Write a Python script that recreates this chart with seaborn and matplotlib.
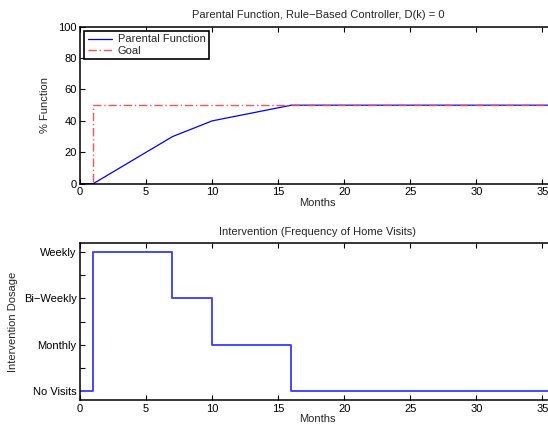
import matplotlib
matplotlib.use('Agg')
import matplotlib.pyplot as plt
import seaborn as sns
import pandas as pd
from matplotlib.ticker import MultipleLocator

# data
months_pf = [0, 1, 7, 10, 16, 36]
parental_function = [0, 0, 30, 40, 50, 50]

months_goal = [0, 1, 1, 36]
goal = [0, 0, 50, 50]

months_iv = [0, 1, 7, 10, 16, 36]
dosage = [0, 3, 2, 1, 0, 0]
dosage_labels = ['No Visits', 'Monthly', 'Bi\u2212Weekly', 'Weekly']

sns.set_style('ticks')
plt.rcParams['font.family'] = ['Liberation Sans', 'DejaVu Sans']
plt.rcParams['font.size'] = 8
plt.rcParams['axes.unicode_minus'] = True

fig = plt.figure(figsize=(5.48, 4.32), dpi=100)
ax1 = fig.add_axes([0.146, 0.5748, 0.868, 0.3634])
ax2 = fig.add_axes([0.146, 0.074, 0.868, 0.3634])

df_pf = pd.DataFrame({'Months': months_pf, 'value': parental_function})
df_goal = pd.DataFrame({'Months': months_goal, 'value': goal})
df_iv = pd.DataFrame({'Months': months_iv, 'value': dosage})

sns.lineplot(data=df_pf, x='Months', y='value', ax=ax1, color='#0000ff', lw=0.9,
             estimator=None, sort=False, label='Parental Function')
sns.lineplot(data=df_goal, x='Months', y='value', ax=ax1, color='#ff4040', lw=1.0,
             alpha=0.9, estimator=None, sort=False, label='Goal', dashes=False)
ax1.lines[1].set_dashes([6, 2, 1, 2])

sns.lineplot(data=df_iv, x='Months', y='value', ax=ax2, color='#4848ff', lw=1.4,
             estimator=None, sort=False, drawstyle='steps-post')

for ax in (ax1, ax2):
    ax.set_xlim(0, 36)
    ax.xaxis.set_major_locator(MultipleLocator(5))
    ax.tick_params(which='both', direction='in', top=True, right=True,
                   length=3.5, width=0.8, labelsize=8, pad=2.5, colors='black')
    for s in ax.spines.values():
        s.set_linewidth(1.1)
        s.set_color('black')
    ax.set_xlabel('Months', fontsize=8, labelpad=0.5)

ax1.set_ylim(0, 100)
ax1.yaxis.set_major_locator(MultipleLocator(20))
ax1.set_ylabel('% Function', fontsize=8, labelpad=6)
ax1.set_title('Parental Function, Rule\u2212Based Controller, D(k) = 0', fontsize=8, pad=6)
leg = ax1.legend(loc='upper left', fancybox=False, edgecolor='black', framealpha=1,
                 fontsize=8, handlelength=2.2, borderaxespad=0.4, borderpad=0.3,
                 labelspacing=0.1, handletextpad=0.5)
leg.get_frame().set_linewidth(1.2)

ax2.set_ylim(-0.2, 3.2)
ax2.set_yticks([0, 1, 2, 3])
ax2.set_yticklabels(dosage_labels)
ax2.yaxis.set_minor_locator(MultipleLocator(0.5))
ax2.set_ylabel('Intervention Dosage', fontsize=8, labelpad=4)
ax2.set_title('Intervention (Frequency of Home Visits)', fontsize=8, pad=6)

fig.savefig('out.png', dpi=100)
